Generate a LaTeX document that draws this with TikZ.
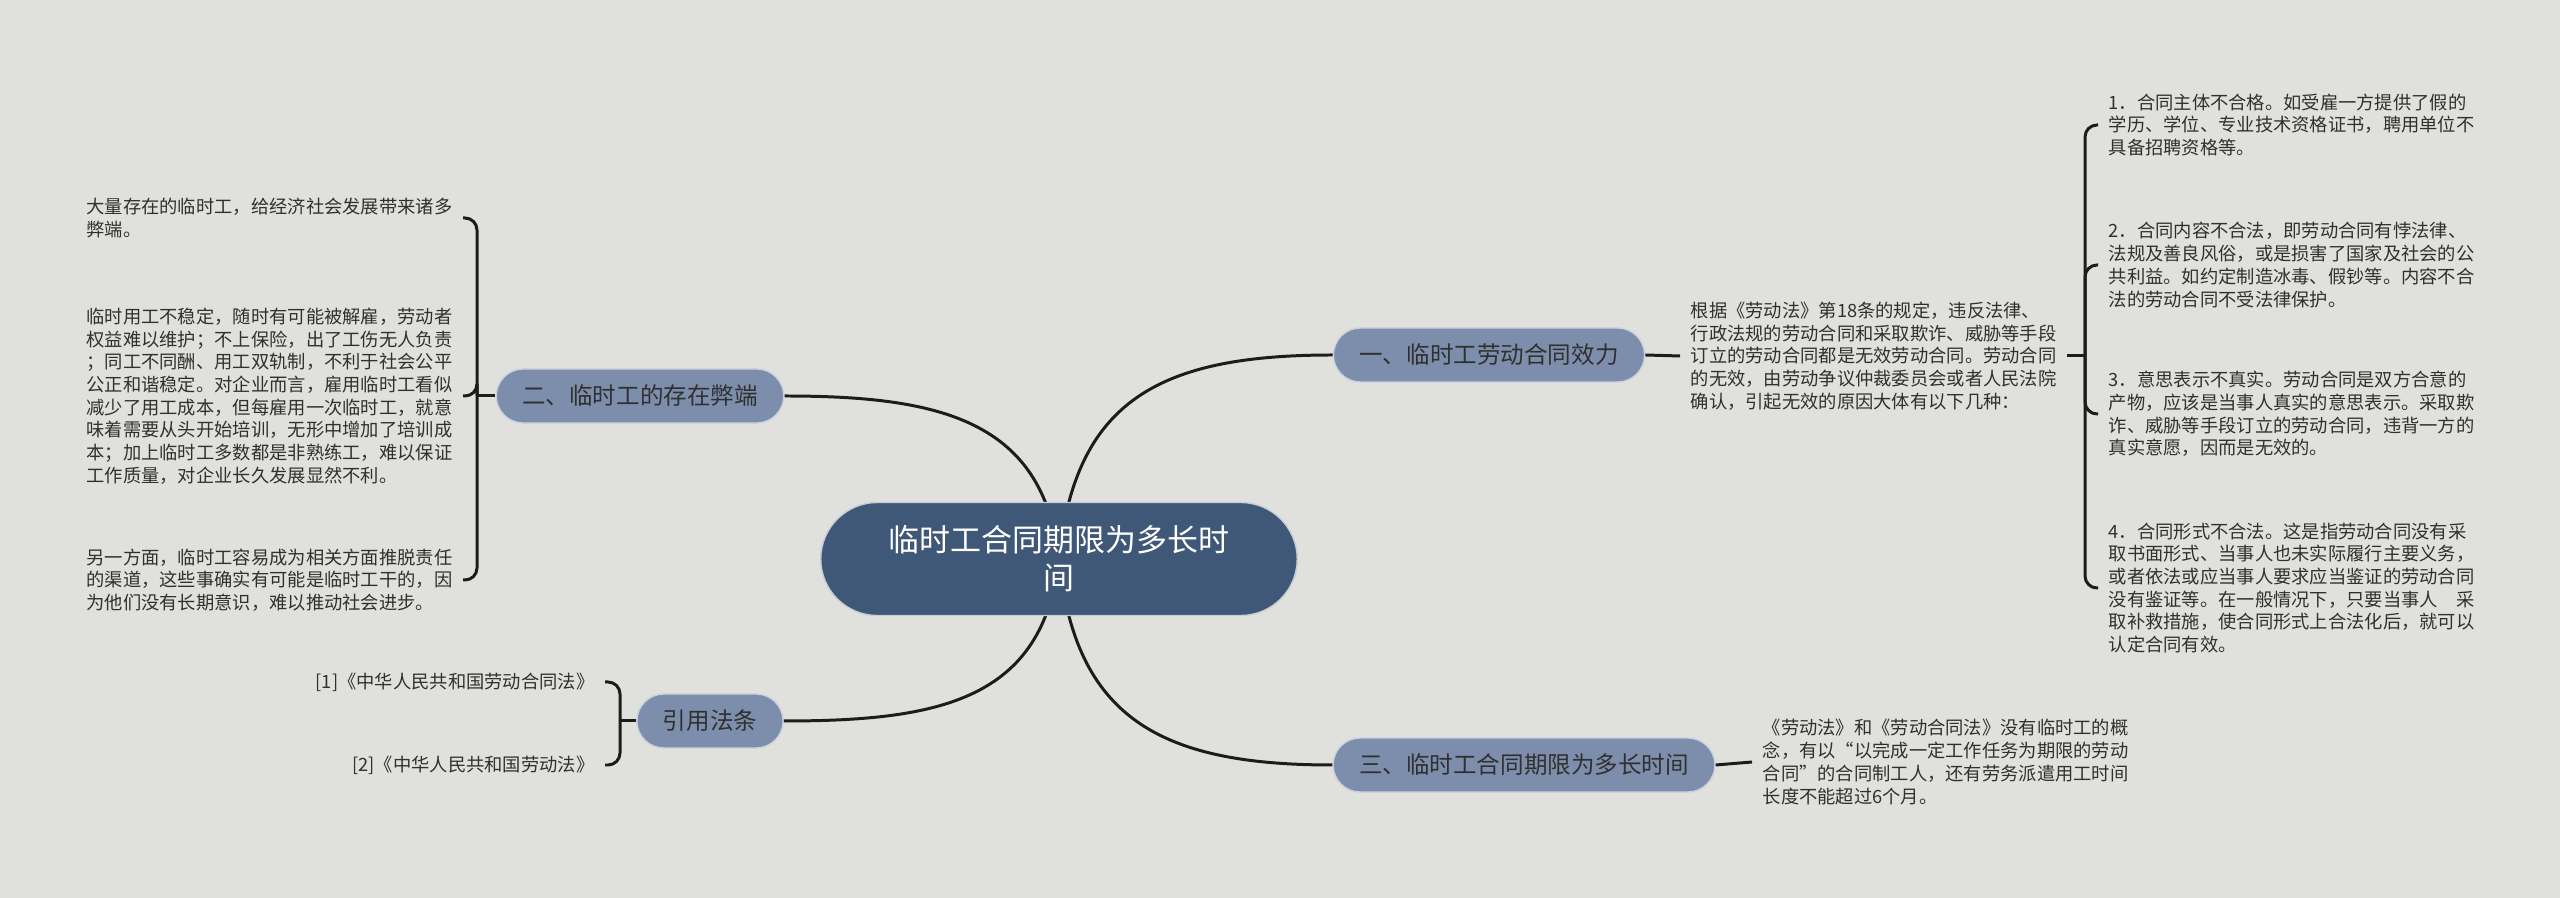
\documentclass[tikz,border=0pt]{standalone}
\usepackage{fontspec}
\setmainfont{Noto Sans CJK SC}
\usepackage{xcolor}
\usetikzlibrary{arrows.meta, positioning, calc}

\definecolor{bgcol}{RGB}{224,225,220}
\definecolor{rootcol}{RGB}{64,88,120}
\definecolor{branchcol}{RGB}{124,142,172}
\definecolor{linecol}{RGB}{28,28,28}
\definecolor{txtcol}{RGB}{48,48,48}

\begin{document}
\begin{tikzpicture}[x=0.01cm, y=-0.01cm,
    rootbox/.style={rectangle, rounded corners=0.565cm, fill=rootcol, draw=white!70!rootcol, line width=0.4pt,
        minimum height=1.13cm, inner xsep=0.68cm, inner ysep=0pt, align=center, text=white,
        font=\fontsize{8.8pt}{10.9pt}\selectfont},
    branchbox/.style={rectangle, rounded corners=0.27cm, fill=branchcol, draw=white!60!branchcol, line width=0.4pt,
        minimum height=0.54cm, inner xsep=0.26cm, inner ysep=0pt, text=txtcol,
        font=\fontsize{6.7pt}{8pt}\selectfont},
    leaftext/.style={inner xsep=0.1cm, inner ysep=0pt, align=left, text=txtcol,
        font=\fontsize{5.2pt}{6.45pt}\selectfont},
    link/.style={draw=linecol, line width=0.85pt},
    brace/.style={link, rounded corners=0.12cm}]

    \fill[bgcol] (0,0) rectangle (2560,898);
    \useasboundingbox (0,0) rectangle (2560,898);

    % branches
    \coordinate (c0) at (1059,559);
    \node[branchbox] (b1) at (1489,355) {一、临时工劳动合同效力};
    \node[branchbox] (b2) at (640,396) {二、临时工的存在弊端};
    \node[branchbox] (b3) at (1524,765) {三、临时工合同期限为多长时间};
    \node[branchbox] (b4) at (710,721) {引用法条};

    \draw[link] (c0) .. controls (1075,400) and (1160,355) .. (b1.west);
    \draw[link] (c0) .. controls (1043,420) and (940,396) .. (b2.east);
    \draw[link] (c0) .. controls (1075,718) and (1160,765) .. (b3.west);
    \draw[link] (c0) .. controls (1043,700) and (940,721) .. (b4.east);

    \node[rootbox] (root) at (c0) {临时工合同期限为多长时\\间};

    % 一
    \node[leaftext, anchor=west] (d1) at (1680,356) {根据《劳动法》第18条的规定，违反法律、\\行政法规的劳动合同和采取欺诈、威胁等手段\\订立的劳动合同都是无效劳动合同。劳动合同\\的无效，由劳动争议仲裁委员会或者人民法院\\确认，引起无效的原因大体有以下几种：};
    \coordinate (k1) at (2085,356);
    \node[leaftext, anchor=west] (i1) at (2098,125) {1．合同主体不合格。如受雇一方提供了假的\\学历、学位、专业技术资格证书，聘用单位不\\具备招聘资格等。};
    \node[leaftext, anchor=west] (i2) at (2098,265) {2．合同内容不合法，即劳动合同有悖法律、\\法规及善良风俗，或是损害了国家及社会的公\\共利益。如约定制造冰毒、假钞等。内容不合\\法的劳动合同不受法律保护。};
    \node[leaftext, anchor=west] (i3) at (2098,414) {3．意思表示不真实。劳动合同是双方合意的\\产物，应该是当事人真实的意思表示。采取欺\\诈、威胁等手段订立的劳动合同，违背一方的\\真实意愿，因而是无效的。};
    \node[leaftext, anchor=west] (i4) at (2098,588) {4．合同形式不合法。这是指劳动合同没有采\\取书面形式、当事人也未实际履行主要义务，\\或者依法或应当事人要求应当鉴证的劳动合同\\没有鉴证等。在一般情况下，只要当事人　采\\取补救措施，使合同形式上合法化后，就可以\\认定合同有效。};
    \draw[link] (b1.east) -- (d1.west);
    \draw[link] (d1.east) -- (k1);
    \foreach \n in {i1,i2,i3,i4}
        \draw[brace] (k1) |- (\n.west);

    % 二
    \coordinate (k2) at (477,396);
    \node[leaftext, anchor=east] (t21) at (463,218) {大量存在的临时工，给经济社会发展带来诸多\\弊端。};
    \node[leaftext, anchor=east] (t22) at (463,396) {临时用工不稳定，随时有可能被解雇，劳动者\\权益难以维护；不上保险，出了工伤无人负责\\；同工不同酬、用工双轨制，不利于社会公平\\公正和谐稳定。对企业而言，雇用临时工看似\\减少了用工成本，但每雇用一次临时工，就意\\味着需要从头开始培训，无形中增加了培训成\\本；加上临时工多数都是非熟练工，难以保证\\工作质量，对企业长久发展显然不利。};
    \node[leaftext, anchor=east] (t23) at (463,580) {另一方面，临时工容易成为相关方面推脱责任\\的渠道，这些事确实有可能是临时工干的，因\\为他们没有长期意识，难以推动社会进步。};
    \draw[link] (b2.west) -- (k2);
    \foreach \n in {t21,t22,t23}
        \draw[brace] (k2) |- (\n.east);

    % 三
    \node[leaftext, anchor=west] (d3) at (1752,762) {《劳动法》和《劳动合同法》没有临时工的概\\念，有以“以完成一定工作任务为期限的劳动\\合同”的合同制工人，还有劳务派遣用工时间\\长度不能超过6个月。};
    \draw[link] (b3.east) -- (d3.west);

    % 引用法条
    \coordinate (k4) at (620,721);
    \node[leaftext, anchor=east] (r1) at (605,682) {[1]《中华人民共和国劳动合同法》};
    \node[leaftext, anchor=east] (r2) at (605,765) {[2]《中华人民共和国劳动法》};
    \draw[link] (b4.west) -- (k4);
    \foreach \n in {r1,r2}
        \draw[brace] (k4) |- (\n.east);
\end{tikzpicture}
\end{document}
